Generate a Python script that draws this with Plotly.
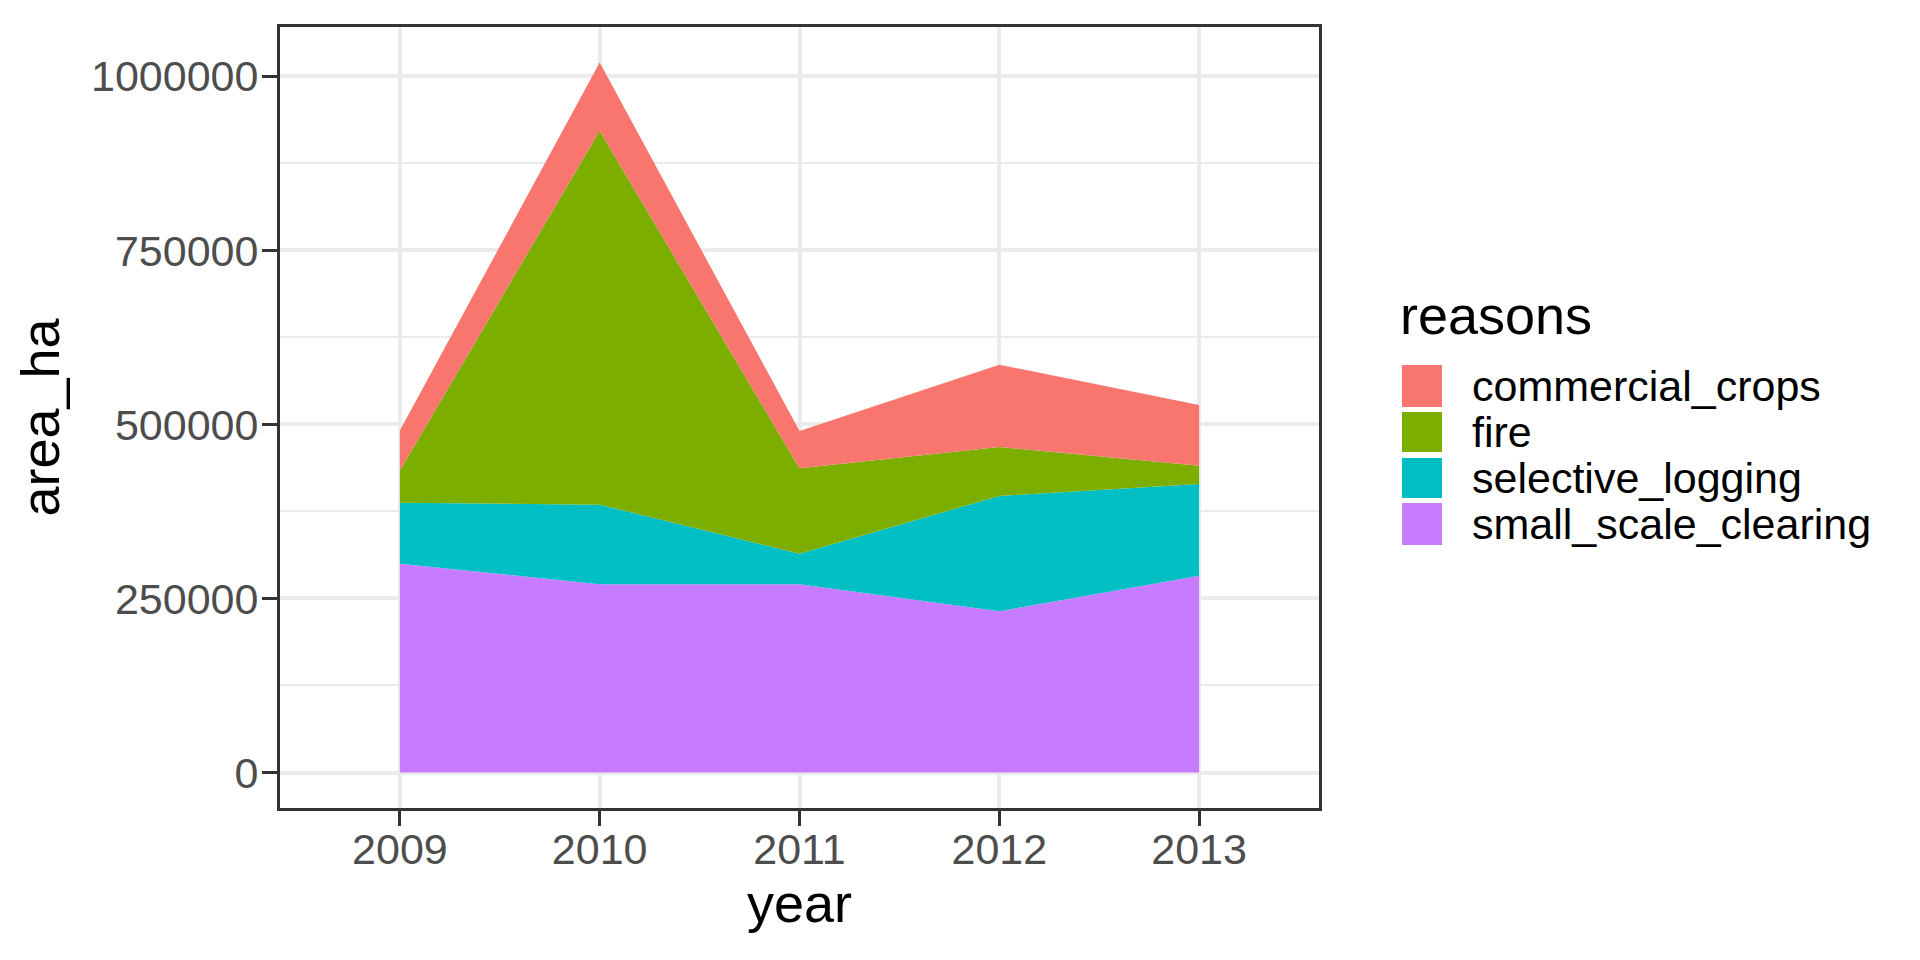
import plotly.graph_objects as go

years = [2009, 2010, 2011, 2012, 2013]
reasons = ["commercial_crops", "fire", "selective_logging", "small_scale_clearing"]
small_scale_clearing = [300000, 270400, 270400, 231600, 282800]
selective_logging = [87600, 114400, 44000, 165700, 131700]
fire = [46400, 537200, 122600, 70300, 26300]
commercial_crops = [57500, 98000, 53600, 118200, 87100]
colors = {"commercial_crops": "#F8766D", "fire": "#7CAE00",
          "selective_logging": "#00BFC4", "small_scale_clearing": "#C77CFF"}
y_ticks = [0, 250000, 500000, 750000, 1000000]

series = {"small_scale_clearing": small_scale_clearing,
          "selective_logging": selective_logging,
          "fire": fire,
          "commercial_crops": commercial_crops}

OFF = 8  # page body margin
W, H = 1920 - OFF, 960 - OFF
ML, MT = 280 - OFF, 27 - OFF
PLOT_R, PLOT_B = 1319 - OFF, 808 - OFF
MR, MB = W - PLOT_R, H - PLOT_B
PW, PH = PLOT_R - ML, PLOT_B - MT

def px_x(px):
    return (px - OFF - ML) / PW

def px_y(py):
    return (PLOT_B - (py - OFF)) / PH

fig = go.Figure()
for name in ["small_scale_clearing", "selective_logging", "fire", "commercial_crops"]:
    fig.add_trace(go.Scatter(
        x=years, y=series[name], name=name, stackgroup="one",
        mode="lines", line=dict(width=0, color=colors[name]),
        fillcolor=colors[name], showlegend=False))

FONT = "Liberation Sans, Arial, sans-serif"

# custom legend (ggplot-style large keys)
key_rows = [(365, 407), (412, 452), (458, 498), (503, 545)]
shapes = []
annotations = []
for name, (t, b) in zip(reasons, key_rows):
    shapes.append(dict(type="rect", xref="paper", yref="paper",
                       x0=px_x(1402), x1=px_x(1442), y0=px_y(b), y1=px_y(t),
                       fillcolor=colors[name], line=dict(width=0)))
    annotations.append(dict(xref="paper", yref="paper", x=px_x(1470), y=px_y((t + b) / 2),
                            text=name, showarrow=False, xanchor="left", yanchor="middle",
                            font=dict(family=FONT, size=43, color="black")))
annotations.append(dict(xref="paper", yref="paper", x=px_x(1398), y=px_y(315),
                        text="reasons", showarrow=False, xanchor="left", yanchor="middle",
                        font=dict(family=FONT, size=54, color="black")))

fig.update_layout(
    width=W, height=H,
    margin=dict(l=ML, r=MR, t=MT, b=MB, autoexpand=False),
    paper_bgcolor="white", plot_bgcolor="white",
    font=dict(family=FONT),
    shapes=shapes, annotations=annotations,
    showlegend=False,
)
fig.update_xaxes(
    range=[2008.4, 2013.6], tickvals=years, ticktext=[str(y) for y in years],
    showgrid=True, gridcolor="#EBEBEB", gridwidth=4,
    showline=True, linecolor="#333333", linewidth=3, mirror=True,
    ticks="outside", ticklen=15, tickwidth=3, tickcolor="#333333",
    tickfont=dict(family=FONT, size=43, color="#4D4D4D"),
    ticklabelstandoff=-14,
    title=dict(text="year", font=dict(family=FONT, size=54, color="black"), standoff=11),
    zeroline=False,
)
fig.update_yaxes(
    range=[-51000, 1071000], tickvals=y_ticks, ticktext=[str(v) for v in y_ticks],
    showgrid=True, gridcolor="#EBEBEB", gridwidth=4,
    minor=dict(tickvals=[125000, 375000, 625000, 875000], showgrid=True,
               gridcolor="#EBEBEB", gridwidth=2, ticks=""),
    showline=True, linecolor="#333333", linewidth=3, mirror=True,
    ticks="outside", ticklen=15, tickwidth=3, tickcolor="#333333",
    tickfont=dict(family=FONT, size=43, color="#4D4D4D"),
    ticklabelstandoff=-5,
    title=dict(text="area_ha", font=dict(family=FONT, size=54, color="black"), standoff=15),
    zeroline=False,
)
fig.write_html("out.html")
